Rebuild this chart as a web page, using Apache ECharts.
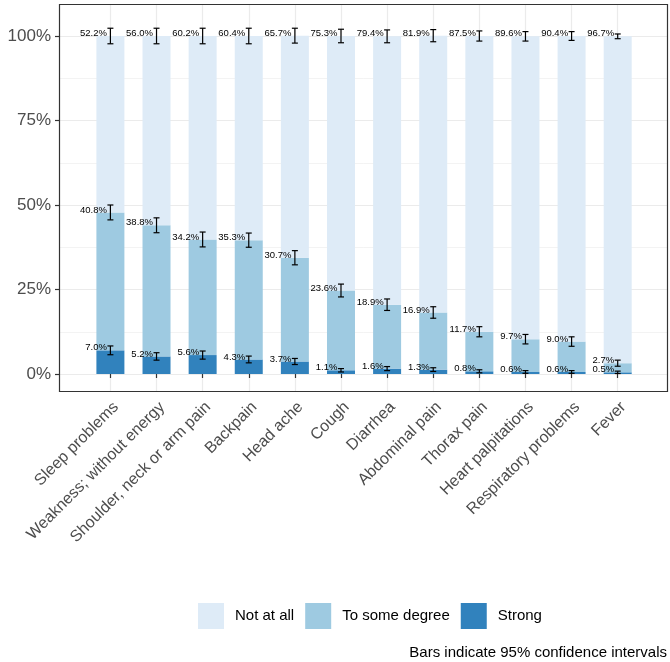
<!DOCTYPE html>
<html>
<head>
<meta charset="utf-8">
<script src="https://cdn.jsdelivr.net/npm/echarts@6/dist/echarts.min.js"></script>
<style>html,body{margin:0;padding:0;background:#fff}#c{width:670px;height:662px}</style>
</head>
<body>
<div id="c"></div>
<script>
const categories = ["Sleep problems","Weakness; without energy","Shoulder, neck or arm pain","Backpain","Head ache","Cough","Diarrhea","Abdominal pain","Thorax pain","Heart palpitations","Respiratory problems","Fever"];
const strong     = [7.0, 5.2, 5.6, 4.3, 3.7, 1.1, 1.6, 1.3, 0.8, 0.6, 0.6, 0.5];
const someDegree = [40.8, 38.8, 34.2, 35.3, 30.7, 23.6, 18.9, 16.9, 11.7, 9.7, 9.0, 2.7];
const notAtAll   = [52.2, 56.0, 60.2, 60.4, 65.7, 75.3, 79.4, 81.9, 87.5, 89.6, 90.4, 96.7];
// half-widths of 95% CI (percentage points)
const strongCI = [1.3, 1.1, 1.2, 1.0, 0.9, 0.5, 0.6, 0.55, 0.45, 0.4, 0.4, 0.35];
const someCI   = [2.2, 2.2, 2.2, 2.1, 2.1, 1.9, 1.7, 1.7, 1.5, 1.4, 1.4, 0.9];
const notCI    = [2.3, 2.3, 2.3, 2.3, 2.2, 2.0, 1.9, 1.8, 1.5, 1.4, 1.3, 0.7];
const yTicks = [0, 25, 50, 75, 100];
const seriesNames = ["Strong", "To some degree", "Not at all"];
const colors = ["#3182bd", "#9ecae1", "#deebf7"];

const FONT = "Liberation Sans, Arial, sans-serif";
const errData = [];
categories.forEach((c, i) => {
  const c1 = strong[i];
  const c2 = strong[i] + someDegree[i];
  const c3 = strong[i] + someDegree[i] + notAtAll[i];
  errData.push([i, c1, strongCI[i]]);
  errData.push([i, c2, someCI[i]]);
  errData.push([i, c3, notCI[i]]);
});

const labelCfg = {
  show: true,
  position: [10.5, -2.5],
  align: 'right',
  verticalAlign: 'middle',
  fontSize: 9.5,
  fontFamily: FONT,
  color: '#000',
  formatter: p => p.value.toFixed(1) + '%'
};

function barSeries(name, data, color) {
  return {
    name: name, type: 'bar', stack: 'total', xAxisIndex: 1, yAxisIndex: 1,
    data: data, barWidth: 28, clip: false,
    itemStyle: { color: color },
    label: labelCfg,
    emphasis: { disabled: true }
  };
}

const chart = echarts.init(document.getElementById('c'), null, { renderer: 'canvas' });
const option = {
  animation: false,
  textStyle: { fontFamily: FONT },
  grid: [
    { left: 59, right: 2, top: 36, bottom: 288 },
    { left: 110.4, right: 52.3, top: 4, bottom: 270 }
  ],
  xAxis: [
    { type: 'value', gridIndex: 0, show: false, min: 0, max: 1 },
    {
      type: 'category', gridIndex: 1, data: categories, boundaryGap: false,
      axisLine: { show: false },
      axisTick: { show: true, length: 4, lineStyle: { color: '#333', width: 1.2 } },
      axisLabel: { rotate: 45, interval: 0, fontSize: 16, color: '#4d4d4d', margin: 7, verticalAlign: 'top', fontFamily: FONT },
      splitLine: { show: true, lineStyle: { color: '#ebebeb', width: 1.2 } }
    }
  ],
  yAxis: [
    {
      type: 'value', gridIndex: 0, min: yTicks[0], max: yTicks[yTicks.length - 1], interval: 25,
      axisLine: { show: false },
      axisTick: { show: true, length: 4, lineStyle: { color: '#333', width: 1.2 } },
      axisLabel: { formatter: v => v + '%', fontSize: 17, color: '#4d4d4d', margin: 8, fontFamily: FONT },
      splitLine: { show: true, lineStyle: { color: '#ebebeb', width: 1.2 } },
      minorTick: { show: false, splitNumber: 2 },
      minorSplitLine: { show: true, lineStyle: { color: '#ebebeb', width: 0.6 } }
    },
    { type: 'value', gridIndex: 1, min: -5.325, max: 109.467, show: false, splitLine: { show: false } }
  ],
  legend: {
    data: ["Not at all", "To some degree", "Strong"],
    left: 198, top: 603, padding: 0,
    icon: 'rect', itemWidth: 26, itemHeight: 26, itemGap: 11,
    selectedMode: false,
    textStyle: { fontSize: 15, color: '#000', fontFamily: FONT, padding: [0, 0, 0, 6] }
  },
  title: {
    text: 'Bars indicate 95% confidence intervals',
    right: 3, top: 645, padding: 0,
    textStyle: { fontSize: 15, fontWeight: 'normal', color: '#000', fontFamily: FONT }
  },
  graphic: [{
    type: 'rect', z: 100, silent: true,
    shape: { x: 59.5, y: 4.5, width: 608, height: 387 },
    style: { fill: 'none', stroke: '#333', lineWidth: 1.2 }
  }],
  series: [
    barSeries(seriesNames[0], strong, colors[0]),
    barSeries(seriesNames[1], someDegree, colors[1]),
    barSeries(seriesNames[2], notAtAll, colors[2]),
    {
      type: 'custom', xAxisIndex: 1, yAxisIndex: 1, z: 10, silent: true,
      data: errData,
      renderItem: function (params, api) {
        const x = api.value(0), c = api.value(1), h = api.value(2);
        const top = api.coord([x, c + h]);
        const bot = api.coord([x, c - h]);
        const w = 3;
        const st = { stroke: '#000', lineWidth: 1.2 };
        return {
          type: 'group',
          children: [
            { type: 'line', shape: { x1: top[0], y1: top[1], x2: bot[0], y2: bot[1] }, style: st },
            { type: 'line', shape: { x1: top[0] - w, y1: top[1], x2: top[0] + w, y2: top[1] }, style: st },
            { type: 'line', shape: { x1: bot[0] - w, y1: bot[1], x2: bot[0] + w, y2: bot[1] }, style: st }
          ]
        };
      }
    }
  ]
};
chart.setOption(option);
</script>
</body>
</html>
